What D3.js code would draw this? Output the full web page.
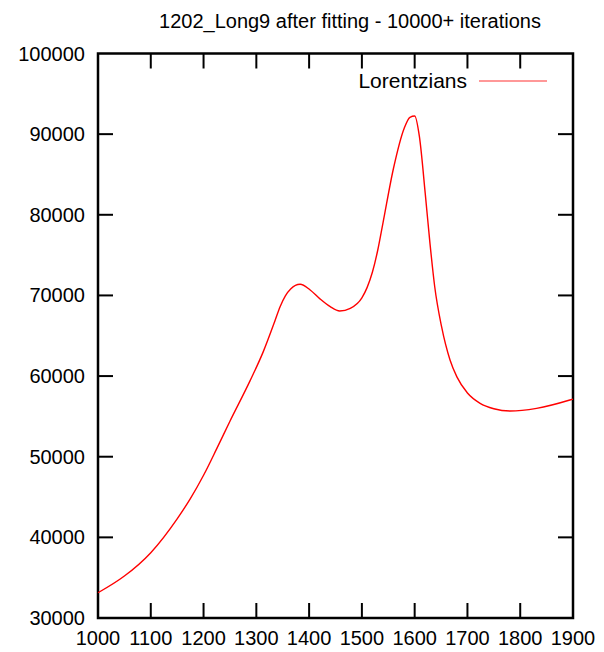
<!DOCTYPE html>
<html><head><meta charset="utf-8">
<script src="https://cdn.jsdelivr.net/npm/d3@7"></script>
<style>body{margin:0;background:#fff}svg{display:block}text{font-family:"Liberation Sans",Arial,sans-serif;fill:#000}</style>
</head><body>
<script>
const title = "1202_Long9 after fitting - 10000+ iterations";
const seriesName = "Lorentzians";
const xTicks = [1000,1100,1200,1300,1400,1500,1600,1700,1800,1900];
const yTicks = [30000,40000,50000,60000,70000,80000,90000,100000];
const xs = [1000,1050,1100,1150,1175,1200,1225,1250,1288,1313,1335,1345,1355,1365,1383,1402,1420,1440,1458,1478,1500,1510,1520,1530,1540,1560,1580,1591,1600,1609,1620,1629,1638,1651,1667,1680,1700,1724,1750,1781,1831,1894,1900];
const ys = [33130,35200,38100,42300,44800,47700,51000,54400,59400,63000,66800,68600,69950,70800,71380,70670,69600,68600,68070,68400,69700,71000,72900,75600,79000,85800,90700,92090,92250,89680,82660,76460,71080,66120,61990,59900,57900,56620,55950,55670,56000,57030,57150];

const W=604,H=652, L=98, R=573, T=53.5, B=618;
const svg=d3.select("body").append("svg").attr("width",W).attr("height",H);
const x=d3.scaleLinear().domain([1000,1900]).range([L,R]);
const y=d3.scaleLinear().domain([30000,100000]).range([B,T]);

svg.append("text").attr("x",350).attr("y",28).attr("text-anchor","middle").attr("font-size",20).text(title);

const tl=15;
const gx=svg.append("g");
xTicks.forEach(v=>{
  if(v>1000&&v<1900){
    gx.append("line").attr("x1",x(v)).attr("x2",x(v)).attr("y1",B).attr("y2",B-tl).attr("stroke","#000").attr("stroke-width",2);
    gx.append("line").attr("x1",x(v)).attr("x2",x(v)).attr("y1",T).attr("y2",T+tl).attr("stroke","#000").attr("stroke-width",2);
  }
  gx.append("text").attr("x",x(v)).attr("y",B+27).attr("text-anchor","middle").attr("font-size",20).text(v);
});
yTicks.forEach(v=>{
  if(v>30000&&v<100000){
    gx.append("line").attr("x1",L).attr("x2",L+tl).attr("y1",y(v)).attr("y2",y(v)).attr("stroke","#000").attr("stroke-width",2);
    gx.append("line").attr("x1",R).attr("x2",R-tl).attr("y1",y(v)).attr("y2",y(v)).attr("stroke","#000").attr("stroke-width",2);
  }
  gx.append("text").attr("x",85).attr("y",y(v)+7).attr("text-anchor","end").attr("font-size",20).text(v);
});
svg.append("rect").attr("x",L).attr("y",T).attr("width",R-L).attr("height",B-T).attr("fill","none").attr("stroke","#000").attr("stroke-width",2.5);

const data=xs.map((v,i)=>[v,ys[i]]);
const line=d3.line().x(d=>x(d[0])).y(d=>y(d[1])).curve(d3.curveMonotoneX);
svg.append("path").datum(data).attr("d",line).attr("fill","none").attr("stroke","#ff0000").attr("stroke-width",1.4);

svg.append("text").attr("x",467).attr("y",88).attr("text-anchor","end").attr("font-size",21).text(seriesName);
svg.append("line").attr("x1",479).attr("x2",547).attr("y1",81).attr("y2",81).attr("stroke","#ff3333").attr("stroke-width",1.2);
</script>
</body></html>
